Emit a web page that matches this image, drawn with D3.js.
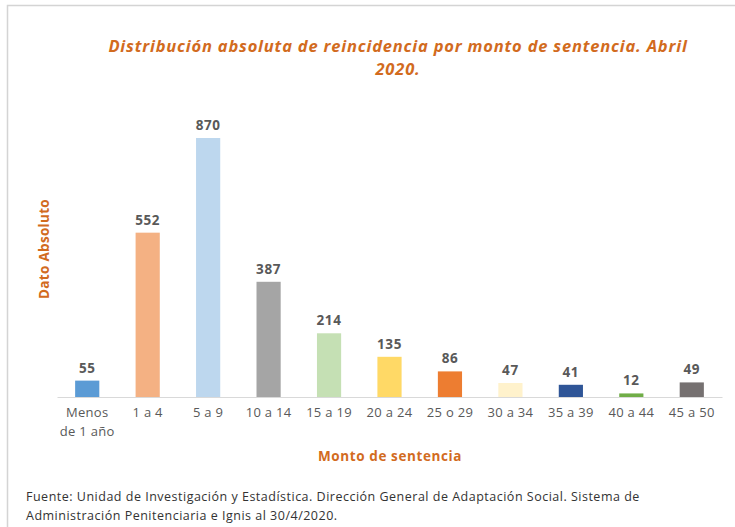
<!DOCTYPE html>
<html><head><meta charset="utf-8">
<script src="https://cdn.jsdelivr.net/npm/d3@7/dist/d3.min.js"></script>
<style>body{margin:0;background:#fff}svg{display:block}</style>
</head><body>
<script>
const categories = ["Menos|de 1 año","1 a 4","5 a 9","10 a 14","15 a 19","20 a 24","25 o 29","30 a 34","35 a 39","40 a 44","45 a 50"];
const values = [55,552,870,387,214,135,86,47,41,12,49];
const colors = ["#5B9BD5","#F4B183","#BDD7EE","#A5A5A5","#C5E0B4","#FFD966","#ED7D31","#FFF2CC","#2F5597","#70AD47","#767171"];
const titleLines = ["Distribución absoluta de reincidencia por monto de sentencia. Abril","2020."];
const yTitle = "Dato Absoluto";
const xTitle = "Monto de sentencia";
const sourceLines = ["Fuente: Unidad de Investigación y Estadística. Dirección General de Adaptación Social. Sistema de","Administración Penitenciaria e Ignis al 30/4/2020."];

const W = 735, H = 527;
const svg = d3.select("body").append("svg").attr("width", W).attr("height", H);
const font = "'Open Sans', Lato, sans-serif";
const orange = "#D26B1E";

// border
svg.append("path").attr("d", `M7.5,${H} V5.5 H${W}`).attr("fill","none").attr("stroke","#d4d4d4").attr("stroke-width",1.5);

const x = d3.scaleBand().domain(categories).range([57, 722]).paddingInner(0.6).paddingOuter(0.3);
const y = d3.scaleLinear().domain([0, 1000]).range([397, 99.3]);

// title
svg.append("text").attr("x", 398).attr("y", 52).attr("text-anchor","middle")
  .attr("font-family", font).attr("font-size", 16.5).attr("font-weight","bold").attr("font-style","italic")
  .attr("letter-spacing", 0.8).attr("fill", orange)
  .selectAll("tspan").data(titleLines).join("tspan")
  .attr("x", 398).attr("dy",(d,i)=> i ? 23 : 0).text(d=>d);

// bars
svg.append("g").selectAll("rect").data(values).join("rect")
  .attr("x",(d,i)=>x(categories[i])).attr("width", x.bandwidth())
  .attr("y", d=>y(d)).attr("height", d=>y(0)-y(d))
  .attr("fill",(d,i)=>colors[i]);

// value labels
svg.append("g").selectAll("text").data(values).join("text")
  .attr("x",(d,i)=>x(categories[i]) + x.bandwidth()/2)
  .attr("y", d=>y(d) - 8)
  .attr("text-anchor","middle").attr("font-family", font).attr("font-size", 13.5).attr("font-weight","bold")
  .attr("letter-spacing", 0.6).attr("fill","#595959").text(d=>d);

// x axis
const xAxis = svg.append("g").attr("transform",`translate(0,${y(0)})`).call(d3.axisBottom(x).tickSize(0).tickFormat(""));
xAxis.select(".domain").attr("stroke","#D9D9D9").attr("stroke-width",1.2);
xAxis.selectAll(".tick").each(function(d){
  const t = d3.select(this).append("text").attr("fill","#595959").attr("font-family",font).attr("font-size",13)
    .attr("letter-spacing", 0.3).attr("text-anchor","middle").attr("y", 20);
  d.split("|").forEach((s,i)=> t.append("tspan").attr("x",0).attr("dy", i ? 19 : 0).text(s));
});

// axis titles
svg.append("text").attr("transform","translate(49,249) rotate(-90)").attr("text-anchor","middle")
  .attr("font-family",font).attr("font-size",13.5).attr("font-weight","bold").attr("letter-spacing",0.3)
  .attr("fill",orange).text(yTitle);
svg.append("text").attr("x",390).attr("y",461).attr("text-anchor","middle")
  .attr("font-family",font).attr("font-size",13.5).attr("font-weight","bold").attr("letter-spacing",0.6)
  .attr("fill",orange).text(xTitle);

// source
svg.append("text").attr("font-family",font).attr("font-size",12.5).attr("letter-spacing",0.5).attr("fill","#333")
  .selectAll("tspan").data(sourceLines).join("tspan")
  .attr("x",26).attr("y",(d,i)=>501 + i*19).text(d=>d);
</script>
</body></html>
